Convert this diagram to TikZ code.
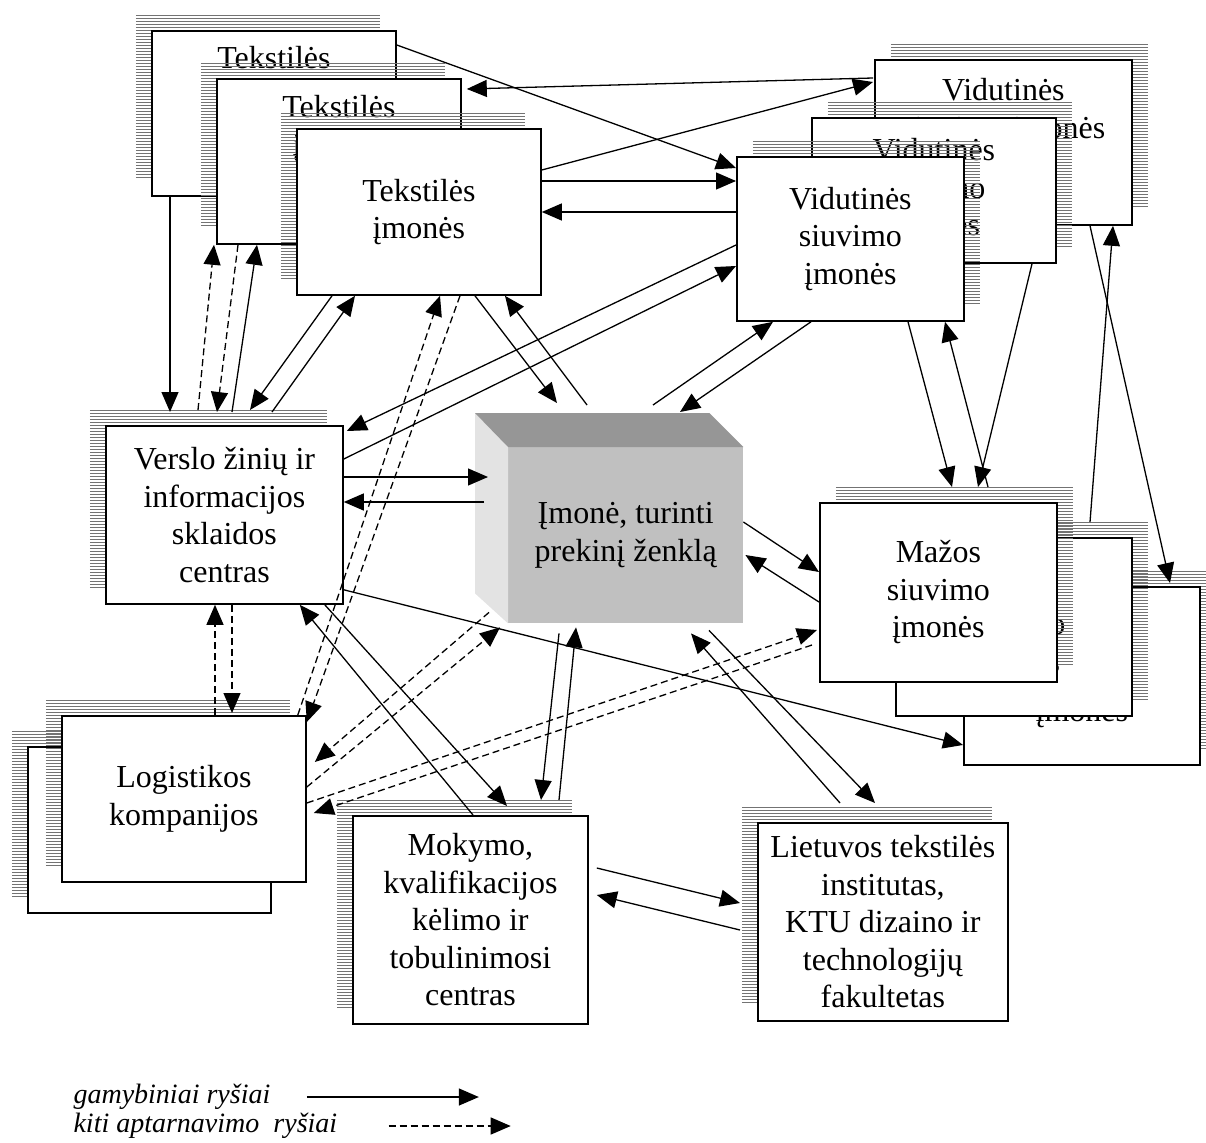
\documentclass[tikz,border=0pt]{standalone}
\usepackage{fontspec}
\setmainfont{Liberation Serif}
\usetikzlibrary{positioning, arrows.meta}

\definecolor{cubefront}{HTML}{C0C0C0}
\definecolor{cubetop}{HTML}{969696}
\definecolor{cubeside}{HTML}{E3E3E3}

\tikzset{
  hatch/.style={draw=black!55, line width=1pt},
  box/.style={draw, line width=1.8pt, fill=white, align=center, anchor=north west},
  lbox/.style={box, preaction={transform canvas={shift={(-16pt,16pt)}}, path picture={
      \foreach \dy in {1,4,...,250} \draw[hatch] (path picture bounding box.north west) ++(0,\dy) -- ++(300,0);}}},
  rbox/.style={box, preaction={transform canvas={shift={(16pt,16pt)}}, path picture={
      \foreach \dy in {1,4,...,250} \draw[hatch] (path picture bounding box.north west) ++(0,\dy) -- ++(300,0);}}},
  arr/.style={-{Triangle[length=20pt, width=17pt]}, line width=1.3pt},
  darr/.style={arr, dash pattern=on 7pt off 4pt},
  legend/.style={font=\fontsize{28}{32}\selectfont\itshape, anchor=west},
}

\begin{document}
\begin{tikzpicture}[x=1pt, y=-1pt, font=\fontsize{32}{37.5}\selectfont]
  \useasboundingbox (0,0) rectangle (1206,1142);

  % textile companies (stack)
  \node[lbox, minimum width=244pt, minimum height=165pt, label={[align=center, anchor=north, yshift=-13pt]north:Tekstilės\\įmonės}] (tek1) at (151,30) {};
  \node[lbox, minimum width=244pt, minimum height=165pt, label={[align=center, anchor=north, yshift=-14pt]north:Tekstilės\\įmonės}] (tek2) at (216,78) {};
  \node[lbox, minimum width=244pt, minimum height=166pt] (tek3) at (296,128) {Tekstilės\\įmonės};

  % medium sewing companies (stack)
  \node[rbox, minimum width=257pt, minimum height=165pt, label={[align=center, anchor=north, yshift=-16pt]north:Vidutinės\\siuvimo įmonės}] (vid1) at (874,59) {};
  \node[rbox, minimum width=244pt, minimum height=145pt] (vid2) at (811,117) {Vidutinės\\siuvimo\\įmonės};
  \node[rbox, minimum width=227pt, minimum height=164pt] (vid3) at (736,156) {Vidutinės\\siuvimo\\įmonės};

  % small sewing companies (stack)
  \node[rbox, minimum width=236pt, minimum height=178pt] (maz3) at (963,586) {Mažos\\siuvimo\\įmonės};
  \node[rbox, minimum width=236pt, minimum height=178pt] (maz2) at (895,537) {Mažos\\siuvimo\\įmonės};
  \node[rbox, minimum width=237pt, minimum height=179pt] (maz1) at (819,502) {Mažos\\siuvimo\\įmonės};

  \node[lbox, minimum width=237pt, minimum height=178pt] (verslo) at (105,425) {Verslo žinių ir\\informacijos\\sklaidos\\centras};

  \node[lbox, minimum width=243pt, minimum height=166pt] (log2) at (27,746) {};
  \node[lbox, minimum width=244pt, minimum height=166pt] (log1) at (61,715) {Logistikos\\kompanijos};

  \node[lbox, minimum width=235pt, minimum height=208pt] (mokymo) at (352,815) {Mokymo,\\kvalifikacijos\\kėlimo ir\\tobulinimosi\\centras};
  \node[lbox, minimum width=250pt, minimum height=198pt] (lietuvos) at (757,822) {Lietuvos tekstilės\\institutas,\\KTU dizaino ir\\technologijų\\fakultetas};

  % the brand owner (cube)
  \node[minimum width=235pt, minimum height=176pt, anchor=north west, fill=cubefront, align=center] (cube) at (508,447) {Įmonė, turinti\\prekinį ženklą};
  \fill[cubeside] (cube.north west) -- ++(-33,-34) -- ([shift={(-33,-30)}]cube.south west) -- (cube.south west) -- cycle;
  \fill[cubetop] (cube.north west) -- ++(-33,-34) -- ([shift={(-34,-34)}]cube.north east) -- (cube.north east) -- cycle;

  % textile companies
  \draw[arr] ([shift={(19,0)}]tek1.south west) -- ([shift={(65,-13)}]verslo.north west);
  \draw[darr] ([shift={(93,-15)}]verslo.north west) -- ([shift={(-2,0)}]tek2.south west);
  \draw[darr] ([shift={(22,0)}]tek2.south west) -- ([shift={(112,-13)}]verslo.north west);
  \draw[arr] ([shift={(127,-13)}]verslo.north west) -- ([shift={(41,0)}]tek2.south west);
  \draw[arr] ([shift={(36,0)}]tek3.south west) -- ([shift={(145,-15)}]verslo.north west);
  \draw[arr] ([shift={(167,-13)}]verslo.north west) -- ([shift={(59,0)}]tek3.south west);
  \draw[darr] ([shift={(-9,0)}]log1.north east) -- ([shift={(144,0)}]tek3.south west);
  \draw[darr] ([shift={(164,0)}]tek3.south west) -- ([shift={(0,7)}]log1.north east);
  \draw[arr] ([shift={(179,0)}]tek3.south west) -- ([shift={(49,-44)}]cube.north west);
  \draw[arr] ([shift={(79,-42)}]cube.north west) -- ([shift={(209,0)}]tek3.south west);
  \draw[arr] ([shift={(0,15)}]tek1.north east) -- ([shift={(0,12)}]vid3.north west);
  \draw[arr] ([shift={(-1,19)}]vid1.north west) -- ([shift={(5,11)}]tek2.north east);
  \draw[arr] ([shift={(0,42)}]tek3.north east) -- ([shift={(-1,23)}]vid1.north west);
  \draw[arr] ([shift={(0,53)}]tek3.north east) -- ([shift={(0,25)}]vid3.north west);
  \draw[arr] ([shift={(0,56)}]vid3.north west) -- ([shift={(0,84)}]tek3.north east);

  % medium and small sewing companies
  \draw[arr] ([shift={(0,89)}]vid3.north west) -- ([shift={(3,6)}]verslo.north east);
  \draw[arr] ([shift={(0,34)}]verslo.north east) -- ([shift={(0,110)}]vid3.north west);
  \draw[arr] ([shift={(145,-42)}]cube.north west) -- ([shift={(37,0)}]vid3.south west);
  \draw[arr] ([shift={(75,0)}]vid3.south west) -- ([shift={(172,-35)}]cube.north west);
  \draw[arr] ([shift={(172,0)}]vid3.south west) -- ([shift={(133,-15)}]maz1.north west);
  \draw[arr] ([shift={(169,-15)}]maz1.north west) -- ([shift={(209,0)}]vid3.south west);
  \draw[arr] ([shift={(221,0)}]vid2.south west) -- ([shift={(159,-15)}]maz1.north west);
  \draw[arr] ([shift={(216,0)}]vid1.south west) -- ([shift={(207,-3)}]maz3.north west);
  \draw[arr] ([shift={(195,-15)}]maz2.north west) -- ([shift={(239,0)}]vid1.south west);
  \draw[arr] ([shift={(0,75)}]cube.north east) -- ([shift={(0,70)}]maz1.north west);
  \draw[arr] ([shift={(0,100)}]maz1.north west) -- ([shift={(2,108)}]cube.north east);

  % information centre
  \draw[arr] ([shift={(0,52)}]verslo.north east) -- ([shift={(-20,30)}]cube.north west);
  \draw[arr] ([shift={(-24,55)}]cube.north west) -- ([shift={(0,77)}]verslo.north east);
  \draw[arr] ([shift={(0,-15)}]verslo.south east) -- ([shift={(0,159)}]maz3.north west);
  \draw[arr] ([shift={(121,0)}]mokymo.north west) -- ([shift={(-44,0)}]verslo.south east);
  \draw[arr] ([shift={(-19,0)}]verslo.south east) -- ([shift={(155,-9)}]mokymo.north west);
  \draw[darr] ([shift={(154,0)}]log1.north west) -- ([shift={(110,0)}]verslo.south west);
  \draw[darr] ([shift={(127,0)}]verslo.south west) -- ([shift={(171,-2)}]log1.north west);

  % logistics
  \draw[darr] ([shift={(-19,-11)}]cube.south west) -- ([shift={(8,47)}]log1.north east);
  \draw[darr] ([shift={(0,72)}]log1.north east) -- ([shift={(-8,4)}]cube.south west);
  \draw[darr] ([shift={(0,88)}]log1.north east) -- ([shift={(-2,128)}]maz1.north west);
  \draw[darr] ([shift={(-7,143)}]maz1.north west) -- ([shift={(7,98)}]log1.north east);

  % training and research
  \draw[arr] ([shift={(51,10)}]cube.south west) -- ([shift={(189,-15)}]mokymo.north west);
  \draw[arr] ([shift={(207,-15)}]mokymo.north west) -- ([shift={(68,4)}]cube.south west);
  \draw[arr] ([shift={(201,7)}]cube.south west) -- ([shift={(118,-19)}]lietuvos.north west);
  \draw[arr] ([shift={(83,-19)}]lietuvos.north west) -- ([shift={(183,10)}]cube.south west);
  \draw[arr] ([shift={(8,53)}]mokymo.north east) -- ([shift={(-17,81)}]lietuvos.north west);
  \draw[arr] ([shift={(-17,108)}]lietuvos.north west) -- ([shift={(8,80)}]mokymo.north east);

  % legend
  \node[legend] (gam) at (70,1097) {gamybiniai ryšiai};
  \node[legend] (kit) at (70,1126) {kiti aptarnavimo\ \ ryšiai};
  \draw[arr] ([xshift=33pt]gam.east) -- ([xshift=205pt]gam.east);
  \draw[darr] ([xshift=48pt]kit.east) -- ([xshift=170pt]kit.east);
\end{tikzpicture}
\end{document}
